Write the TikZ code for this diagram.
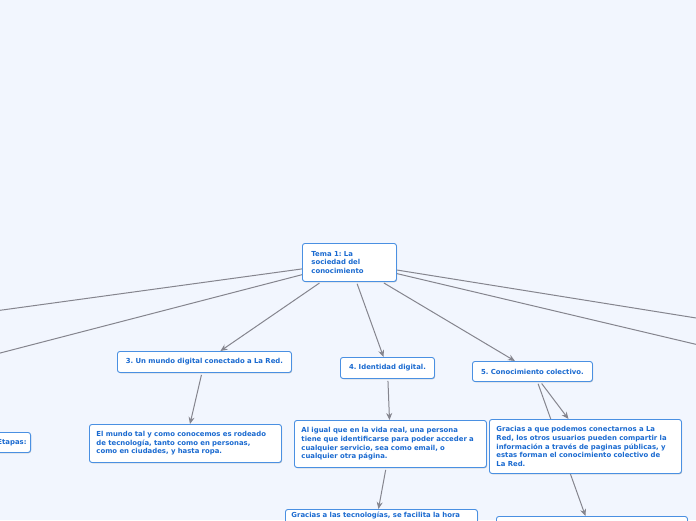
\documentclass[tikz,border=0pt]{standalone}
\usepackage{fontspec}
\setmainfont{DejaVu Sans}
\newfontfamily\boxfont{DejaVu Sans Bold}
\usetikzlibrary{arrows.meta,shadows}
\definecolor{bgcol}{HTML}{F2F6FE}
\definecolor{boxblue}{HTML}{4A90E2}
\definecolor{txtblue}{HTML}{1A6AD0}
\definecolor{linegray}{HTML}{85858E}
\pgfdeclarelayer{bglayer}
\pgfdeclarelayer{edgelayer}
\pgfsetlayers{bglayer,edgelayer,main}
\frenchspacing
\tikzset{
  box/.style={draw=boxblue, fill=white, rounded corners=2.5pt, line width=0.9pt,
    text=txtblue, font=\boxfont\fontsize{6.9}{8.6}\selectfont, align=left,
    inner xsep=8pt, inner ysep=2pt, anchor=north west,
    drop shadow={shadow xshift=0.6pt, shadow yshift=-0.8pt, fill=black!35, opacity=0.6}},
  conn/.style={draw=linegray, line width=1pt},
  arr/.style={conn, -{Stealth[length=7pt,width=6pt]}}
}
\begin{document}
\begin{tikzpicture}[x=1pt,y=-1pt]
\useasboundingbox (0,0) rectangle (696,520);
\clip (0,0) rectangle (696,520);
\begin{pgfonlayer}{bglayer}
  \fill[bgcol] (0,0) rectangle (696,520);
\end{pgfonlayer}
% nodes
\node[box, minimum width=94pt, minimum height=38pt, text width=76pt, inner xsep=9pt] (root) at (302,243)
  {Tema 1: La\\sociedad del\\conocimiento};
\node[box, minimum width=174pt, minimum height=21pt, text width=164pt, inner xsep=5pt, align=center] (n3) at (117,351)
  {3. Un mundo digital conectado a La Red.};
\node[box, minimum width=94pt, minimum height=21pt, text width=84pt, inner xsep=5pt, align=center] (n4) at (340,357)
  {4. Identidad digital.};
\node[box, minimum width=120pt, minimum height=20pt, text width=110pt, inner xsep=5pt, align=center] (n5) at (472,361)
  {5. Conocimiento colectivo.};
\node[box, minimum width=192pt, minimum height=38pt, text width=178pt, inner xsep=7pt] (n3a) at (89,424)
  {El mundo tal y como conocemos es rodeado\\de tecnología, tanto como en personas,\\como en ciudades, y hasta ropa.};
\node[box, minimum width=192pt, minimum height=47pt, text width=178pt, inner xsep=7pt] (n4a) at (294,420)
  {Al igual que en la vida real, una persona\\tiene que identificarse para poder acceder a\\cualquier servicio, sea como email, o\\cualquier otra página.};
\node[box, minimum width=192pt, minimum height=54pt, text width=178pt, inner xsep=7pt] (n5a) at (489,419)
  {Gracias a que podemos conectarnos a La\\Red, los otros usuarios pueden compartir la\\información a través de paginas públicas, y\\estas forman el conocimiento colectivo de\\La Red.};
\node[box, minimum width=192pt, text width=180pt, inner xsep=6pt, inner ysep=3pt] (n4b) at (285,509)
  {Gracias a las tecnologías, se facilita la hora\\\phantom{x}\\\phantom{x}\\\phantom{x}};
\node[box, minimum width=191pt, minimum height=50pt, text width=177pt, inner xsep=7pt] (n5b) at (496,516) {};
\node[box, minimum width=80pt, minimum height=20pt, text width=72pt, align=right, inner xsep=4pt, anchor=north east] (left) at (31,432)
  {Etapas:};
% off-screen ends
\coordinate (L1) at (-100,324);
\coordinate (L2) at (-100,379);
\coordinate (R1) at (796,334);
\coordinate (R2) at (796,368);
\begin{pgfonlayer}{edgelayer}
  \draw[conn] (root) -- (L1);
  \draw[conn] (root) -- (L2);
  \draw[conn] (root) -- (R1);
  \draw[conn] (root) -- (R2);
  \draw[arr, shorten <=2pt] (root) -- (n3);
  \draw[arr, shorten <=2pt] (root) -- (n4);
  \draw[arr, shorten <=2pt] (root) -- (n5);
  \draw[arr, shorten <=2pt] (n3) -- (n3a);
  \draw[arr, shorten <=2pt] (n4) -- (n4a);
  \draw[arr, shorten <=2pt] ([xshift=8pt]n5.south) -- ([xshift=-17pt]n5a.north);
  \draw[arr, shorten <=2pt] ([xshift=5pt]n5.south) -- ([xshift=-6.5pt]n5b.north);
  \draw[arr, shorten <=2pt] (n4a) -- ([xshift=-3pt]n4b.north);
\end{pgfonlayer}
\end{tikzpicture}
\end{document}
